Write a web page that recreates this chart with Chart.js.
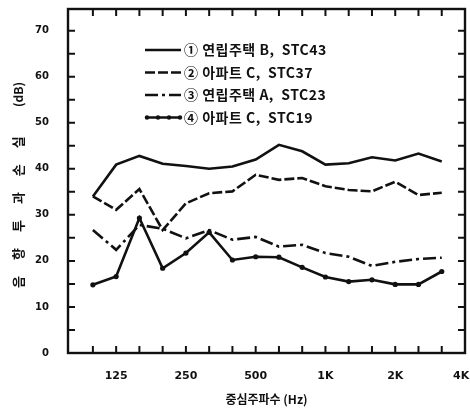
<!DOCTYPE html>
<html>
<head>
<meta charset="utf-8">
<script src="https://cdn.jsdelivr.net/npm/chart.js@4"></script>
<style>
  html, body { margin: 0; padding: 0; background: #fff; }
  #wrap { width: 470px; height: 411px; }
</style>
</head>
<body>
<div id="wrap"><canvas id="chart" width="470" height="411"></canvas></div>
<script>
// 1/3 octave bands, 100 Hz .. 4 kHz
const bands = ['100', '125', '160', '200', '250', '315', '400', '500', '630', '800',
               '1K', '1.25K', '1.6K', '2K', '2.5K', '3.15K', '4K'];
const shownBands = ['125', '250', '500', '1K', '2K', '4K'];
const yTicks = [0, 5, 10, 15, 20, 25, 30, 35, 40, 45, 50, 55, 60, 65, 70];

const seriesNames = ['① 연립주택 B,  STC43', '② 아파트 C,  STC37', '③ 연립주택 A,  STC23', '④ 아파트 C,  STC19'];
const stc43 = [34.0, 40.9, 42.8, 41.1, 40.6, 40.0, 40.5, 42.0, 45.2, 43.8, 40.9, 41.2, 42.5, 41.8, 43.3, 41.6];
const stc37 = [34.0, 31.1, 35.6, 26.7, 32.5, 34.7, 35.1, 38.7, 37.6, 38.0, 36.2, 35.4, 35.1, 37.2, 34.3, 34.8];
const stc23 = [26.7, 22.4, 27.8, 27.0, 24.9, 26.7, 24.6, 25.2, 23.1, 23.5, 21.7, 20.9, 18.9, 19.8, 20.4, 20.7];
const stc19 = [14.8, 16.6, 29.3, 18.4, 21.7, 26.2, 20.2, 20.9, 20.8, 18.6, 16.5, 15.5, 15.9, 14.9, 14.9, 17.7];

const yTitle = '음향투과손실';
const yUnit = '(dB)';
const xTitle = '중심주파수 (Hz)';

const ink = '#111';
const korFont = '"Noto Sans CJK KR", "Noto Sans", sans-serif';

function pts(arr) {
  return arr.map((v, i) => ({ x: i, y: v }));
}

const datasets = [
  { label: seriesNames[0], data: pts(stc43), borderDash: [], pointRadius: 0 },
  { label: seriesNames[1], data: pts(stc37), borderDash: [10, 3], pointRadius: 0 },
  { label: seriesNames[2], data: pts(stc23), borderDash: [13, 4, 3, 4], pointRadius: 0 },
  { label: seriesNames[3], data: pts(stc19), borderDash: [], pointRadius: 2.6 }
].map(d => Object.assign({
  borderColor: ink, backgroundColor: ink, pointBackgroundColor: ink,
  borderWidth: 2.6, tension: 0, fill: false, pointBorderWidth: 0
}, d));

// frame + inward ticks, legend and y title
const decor = {
  id: 'decor',
  afterDraw(chart) {
    const ctx = chart.ctx;
    const xs = chart.scales.x, ys = chart.scales.y;
    const L = xs.left, R = xs.right, T = ys.top, B = ys.bottom;
    ctx.save();
    ctx.strokeStyle = ink;
    ctx.lineWidth = 2.4;
    ctx.strokeRect(L, T, R - L, B - T);
    ctx.lineWidth = 2;
    ctx.beginPath();
    for (let i = 0; i < bands.length - 1; i++) {
      const px = xs.getPixelForValue(i);
      ctx.moveTo(px, B); ctx.lineTo(px, B - 7);
      ctx.moveTo(px, T); ctx.lineTo(px, T + 7);
    }
    yTicks.forEach(v => {
      const py = ys.getPixelForValue(v);
      ctx.moveTo(L, py); ctx.lineTo(L + 7, py);
      ctx.moveTo(R, py); ctx.lineTo(R - 7, py);
    });
    ctx.stroke();

    // legend
    ctx.font = 'bold 14px ' + korFont;
    ctx.textBaseline = 'middle';
    ctx.fillStyle = ink;
    chart.data.datasets.forEach((ds, i) => {
      const y = 50 + i * 22.5;
      ctx.lineWidth = 2.4;
      ctx.setLineDash(ds.borderDash);
      ctx.beginPath();
      ctx.moveTo(145, y); ctx.lineTo(181, y);
      ctx.stroke();
      ctx.setLineDash([]);
      if (ds.pointRadius > 0) {
        [147, 158, 169, 180].forEach(px => {
          ctx.beginPath(); ctx.arc(px, y, 2.2, 0, Math.PI * 2); ctx.fill();
        });
      }
      ctx.letterSpacing = '0.5px';
      ctx.fillText(ds.label, 184, y);
    });

    // y title (rotated, wide letter spacing), unit at the top end
    ctx.translate(18, 0);
    ctx.rotate(-Math.PI / 2);
    ctx.font = 'bold 13px ' + korFont;
    ctx.textAlign = 'left';
    ctx.letterSpacing = '16px';
    ctx.fillText(yTitle, -288, 0);
    ctx.letterSpacing = '0px';
    ctx.textAlign = 'right';
    ctx.font = 'bold 12px ' + korFont;
    ctx.fillText(yUnit, -82, 0);
    ctx.restore();
  }
};

new Chart(document.getElementById('chart').getContext('2d'), {
  type: 'line',
  data: { datasets },
  options: {
    responsive: false,
    animation: false,
    layout: { padding: { top: 9, right: 5, left: 0, bottom: 0 }, autoPadding: false },
    plugins: { legend: { display: false }, tooltip: { enabled: false } },
    scales: {
      x: {
        type: 'linear',
        min: -1.07,
        max: bands.length - 1,
        grid: { display: false },
        border: { display: false },
        afterBuildTicks: s => { s.ticks = bands.map((b, i) => ({ value: i })); },
        afterFit: s => { s.height = 58; s.paddingLeft = 0; s.paddingRight = 0; },
        ticks: {
          autoSkip: false,
          maxRotation: 0,
          padding: 9,
          color: ink,
          font: { family: 'DejaVu Sans', size: 11, weight: 'bold' },
          // last label sits on the right edge; pad it so it stays on the page
          callback: v => shownBands.includes(bands[v])
            ? (v === bands.length - 1 ? bands[v] + '  ' : bands[v]) : ''
        },
        title: {
          display: true,
          text: xTitle,
          color: ink,
          padding: { top: 10 },
          font: { family: korFont, size: 12, weight: 'bold' }
        }
      },
      y: {
        min: 0,
        max: 74.7,
        grid: { display: false },
        border: { display: false },
        afterBuildTicks: s => { s.ticks = yTicks.map(v => ({ value: v })); },
        afterFit: s => { s.width = 68; s.paddingTop = 0; s.paddingBottom = 0; },
        ticks: {
          autoSkip: false,
          padding: 11,
          color: ink,
          font: { family: 'DejaVu Sans', size: 10, weight: 'bold' },
          callback: v => v % 10 === 0 ? v : ''
        }
      }
    }
  },
  plugins: [decor]
});
</script>
</body>
</html>
